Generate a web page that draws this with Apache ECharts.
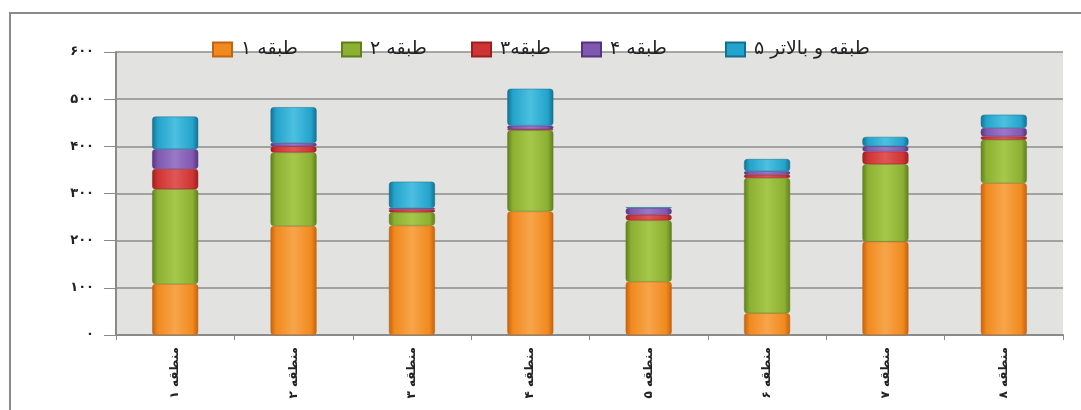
<!DOCTYPE html>
<html>
<head>
<meta charset="utf-8">
<script src="https://cdn.jsdelivr.net/npm/echarts@6/dist/echarts.min.js"></script>
<style>
  html, body { margin: 0; padding: 0; background: #fff; }
  #chart { width: 1081px; height: 410px; }
</style>
</head>
<body>
<div id="chart"></div>
<script>
// categories (regions)
var regions = ['منطقه ۱', 'منطقه ۲', 'منطقه ۳', 'منطقه ۴', 'منطقه ۵', 'منطقه ۶', 'منطقه ۷', 'منطقه ۸'];
// series names
var floorNames = ['طبقه ۱', 'طبقه ۲', 'طبقه۳', 'طبقه ۴', 'طبقه و بالاتر ۵'];
// values
var floor1 = [108, 231, 232, 262, 113, 46, 198, 322];
var floor2 = [201, 156, 28, 172, 130, 287, 164, 92];
var floor3 = [43, 13, 6, 2, 12, 7, 27, 7];
var floor4 = [42, 7, 3, 8, 14, 7, 11, 18];
var floor5 = [69, 76, 56, 78, 2, 26, 20, 28];
var yTicks = ['۰', '۱۰۰', '۲۰۰', '۳۰۰', '۴۰۰', '۵۰۰', '۶۰۰'];

var seriesData = [floor1, floor2, floor3, floor4, floor5];
// edge / mid / center colours for a glossy look
var palette = [
  ['#c4620f', '#f08a1e', '#f7a54a'],
  ['#5f7f1c', '#8cb032', '#a5c84a'],
  ['#99201f', '#cf3434', '#e05656'],
  ['#55337e', '#8058b0', '#9a78c8'],
  ['#13708f', '#24a3cc', '#4cc0e0']
];
// left edge of each legend item
var legendLeft = [207, 336, 466, 576, 720];

function glossy(c) {
  return new echarts.graphic.LinearGradient(0, 0, 1, 0, [
    { offset: 0, color: c[0] },
    { offset: 0.12, color: c[1] },
    { offset: 0.5, color: c[2] },
    { offset: 0.88, color: c[1] },
    { offset: 1, color: c[0] }
  ]);
}

var chart = echarts.init(document.getElementById('chart'));

var series = floorNames.map(function (name, i) {
  return {
    name: name,
    type: 'bar',
    stack: 'total',
    barWidth: 46,
    data: seriesData[i],
    itemStyle: {
      color: glossy(palette[i]),
      borderRadius: 3,
      borderColor: palette[i][0],
      borderWidth: 0.5
    }
  };
});

var legends = floorNames.map(function (n, i) {
  return {
    left: legendLeft[i],
    top: 35,
    itemWidth: 19,
    itemHeight: 14,
    icon: 'rect',
    textStyle: { fontSize: 19, color: '#222', fontFamily: 'DejaVu Sans', padding: [0, 0, 0, 4] },
    data: [{ name: n, itemStyle: { color: palette[i][1] } }]
  };
});

chart.setOption({
  animation: false,
  textStyle: { fontFamily: 'DejaVu Sans' },
  graphic: [{
    type: 'polyline',
    shape: { points: [[10, 430], [10, 13], [1100, 13]] },
    style: { fill: 'none', stroke: '#8a8a8a', lineWidth: 2 },
    silent: true
  }],
  legend: legends,
  grid: {
    left: 116,
    right: 18,
    top: 52,
    bottom: 75,
    show: true,
    backgroundColor: '#e2e2e0',
    borderWidth: 0
  },
  xAxis: {
    type: 'category',
    data: regions,
    axisLine: { lineStyle: { color: '#8a8a8a', width: 2 } },
    axisTick: { show: true, length: 5, lineStyle: { color: '#8a8a8a' } },
    axisLabel: {
      rotate: 90,
      margin: 12,
      fontSize: 12,
      fontWeight: 'bold',
      color: '#222'
    }
  },
  yAxis: {
    type: 'value',
    min: 0,
    max: 600,
    interval: 100,
    axisLine: { show: true, lineStyle: { color: '#8a8a8a', width: 2 } },
    axisTick: { show: true, length: 12, lineStyle: { color: '#8a8a8a' } },
    splitLine: { lineStyle: { color: '#8c8c8c', width: 1.5 } },
    axisLabel: {
      margin: 22,
      fontSize: 13,
      fontWeight: 'bold',
      color: '#222',
      formatter: function (v) { return yTicks[v / 100]; }
    }
  },
  series: series
});
</script>
</body>
</html>
